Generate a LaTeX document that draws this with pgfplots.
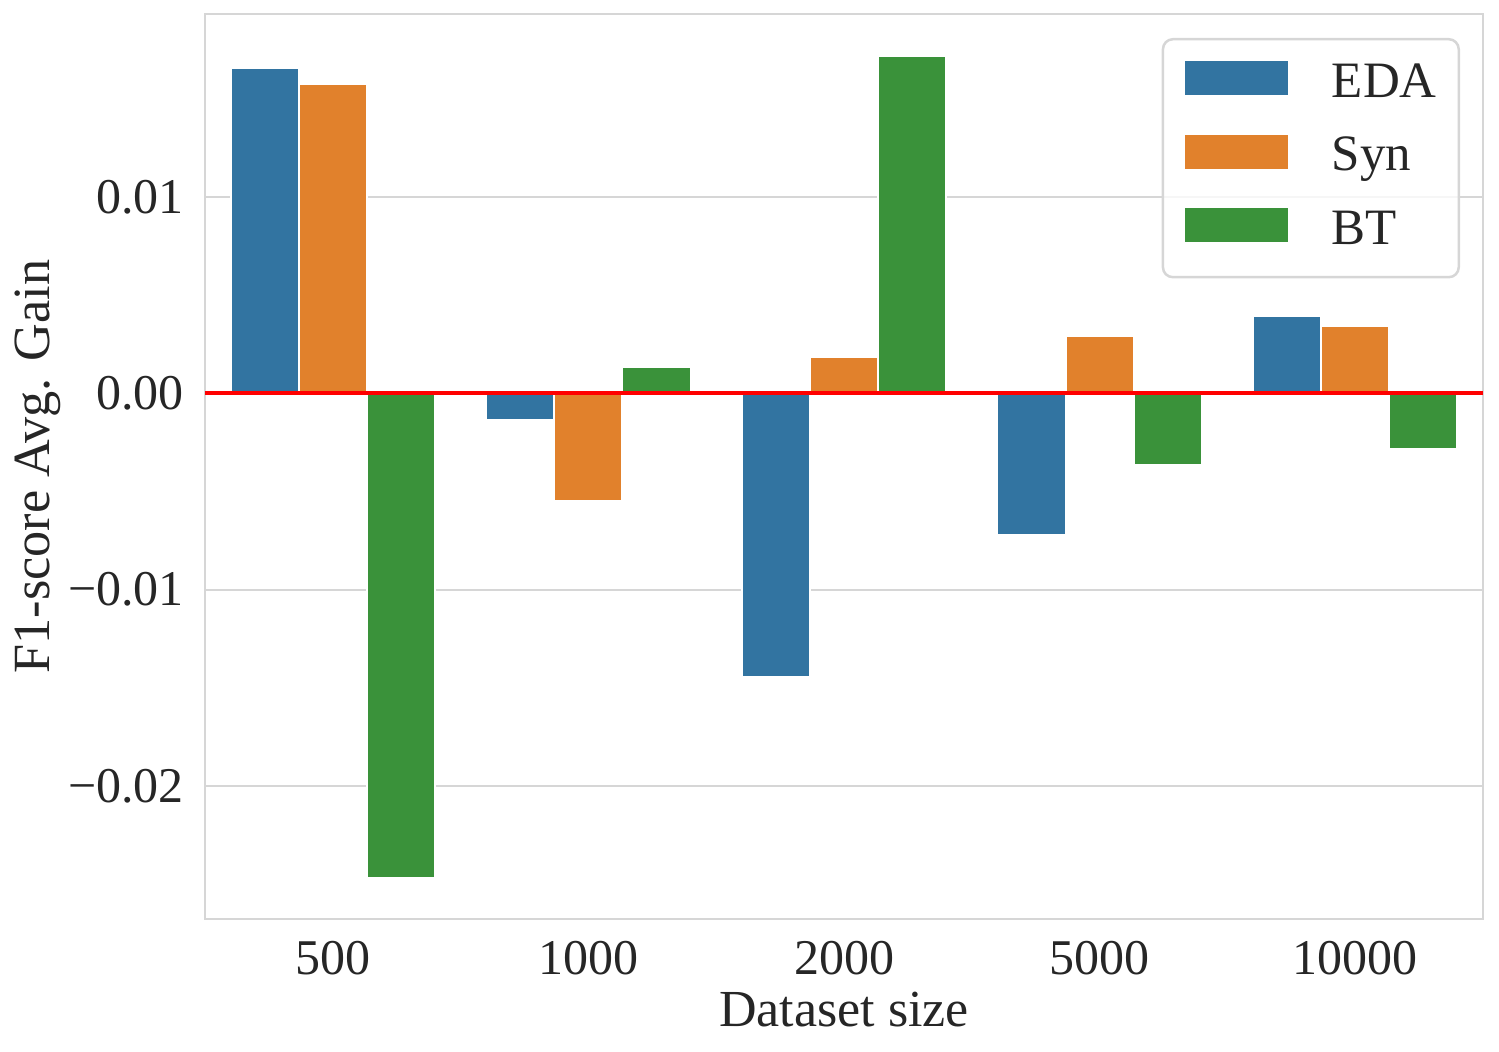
\documentclass[border=0pt]{standalone}
\usepackage{fontspec}
\setmainfont{Liberation Serif}
\usepackage{pgfplots}
\pgfplotsset{compat=1.18}
\definecolor{sbblue}{RGB}{50,116,161}
\definecolor{sborange}{RGB}{225,129,44}
\definecolor{sbgreen}{RGB}{58,146,58}
\definecolor{sbgrid}{RGB}{214,214,214}
\definecolor{sbtext}{RGB}{38,38,38}
\begin{document}
\begin{tikzpicture}
\useasboundingbox (-41pt,-26.6pt) rectangle (258.8pt,183.8pt);
\begin{axis}[
  at={(0,0)}, anchor=south west,
  scale only axis,
  width=255.6pt, height=181pt,
  xmin=-0.5, xmax=4.5,
  ymin=-0.02678, ymax=0.01932,
  xtick={0,1,2,3,4},
  xticklabels={500,1000,2000,5000,10000},
  ytick={-0.02,-0.01,0,0.01},
  yticklabels={−0.02,−0.01,0.00,0.01},
  scaled y ticks=false,
  major tick length=0pt,
  ymajorgrids,
  grid style={sbgrid, line width=0.4pt},
  axis line style={sbgrid, line width=0.5pt},
  font=\fontsize{10}{12}\selectfont,
  every tick label/.append style={text=sbtext},
  xticklabel style={inner sep=0pt, anchor=north, yshift=-4.2pt},
  yticklabel style={inner sep=0pt, anchor=east, xshift=-4pt},
  xlabel={Dataset size},
  ylabel={F1-score Avg. Gain},
  xlabel style={at={(axis description cs:0.5,-0.1193)}, anchor=base, inner sep=0pt, text=sbtext, font=\fontsize{10.4}{12}\selectfont},
  ylabel style={at={(axis description cs:-0.1213,0.5)}, anchor=base, inner sep=0pt, text=sbtext, font=\fontsize{10.45}{12}\selectfont},
  ybar, bar shift=0pt, bar width=0.2667,
  legend cell align=left,
  legend style={at={(axis description cs:0.9820,0.9735)}, anchor=north east,
    draw=sbgrid, line width=0.5pt, rounded corners=2pt, fill=white, fill opacity=0.8, text opacity=1,
    inner xsep=4.4pt, inner ysep=2.1pt, row sep=0.7pt, column sep=8.8pt,
    nodes={inner sep=0pt, text height=9.5pt, text depth=4.5pt, text=sbtext},
    font=\fontsize{10.2}{12}\selectfont},
  legend image code/.code={
    \fill[#1, draw=none, sharp corners, fill opacity=1] (0pt,-2.1pt) rectangle (20.6pt,4.7pt);
  },
]
\addplot[fill=sbblue, draw=white, line width=0.4pt] coordinates {
  (-0.26667,0.01657) (0.73333,-0.00134) (1.73333,-0.01444) (2.73333,-0.00724) (3.73333,0.00393)};
\addlegendentry{EDA}
\addplot[fill=sborange, draw=white, line width=0.4pt] coordinates {
  (0,0.01573) (1,-0.00549) (2,0.00185) (3,0.00291) (4,0.00342)};
\addlegendentry{Syn}
\addplot[fill=sbgreen, draw=white, line width=0.4pt] coordinates {
  (0.26667,-0.02467) (1.26667,0.00134) (2.26667,0.01718) (3.26667,-0.00367) (4.26667,-0.00284)};
\addlegendentry{BT}
\addplot[sharp plot, red, line width=0.75pt, forget plot] coordinates {(-0.5,0) (4.5,0)};
\end{axis}
\end{tikzpicture}
\end{document}
